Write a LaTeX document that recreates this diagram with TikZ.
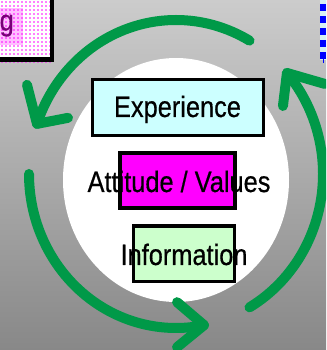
\documentclass[tikz,border=0pt]{standalone}
\usepackage{fontspec}
\setmainfont{Liberation Sans}
\newfontfamily\lblfont[FakeBold=0.6]{Liberation Sans}
\usepackage{graphicx}
\definecolor{bgtop}{RGB}{204,204,204}
\definecolor{bgbot}{RGB}{136,136,136}
\definecolor{cycgreen}{RGB}{0,153,72}
\definecolor{expfill}{RGB}{204,255,255}
\definecolor{infofill}{RGB}{204,255,204}
\definecolor{attfill}{RGB}{255,0,255}
\definecolor{gpurple}{RGB}{120,0,120}
\definecolor{trfill}{RGB}{215,240,245}
\tikzset{
  cyc/.style={draw=cycgreen, line width=10pt, line cap=round, line join=round},
  boxstyle/.style={draw=black, line width=3.5pt, inner sep=0pt},
  lbl/.style={anchor=base, inner sep=0pt, font=\lblfont\fontsize{29.5}{30}\selectfont},
}
\newcommand{\narrow}[1]{\scalebox{0.86}[1]{#1}}
\begin{document}
\begin{tikzpicture}[x=1pt,y=1pt]
\useasboundingbox (0,0) rectangle (326,350);
\clip (0,0) rectangle (326,350);
% background
\shade[top color=bgtop, bottom color=bgbot] (0,0) rectangle (326,350);
% white ellipse
\fill[white] (176,170) ellipse [x radius=113pt, y radius=122pt];
% cycle arrows
\coordinate (C) at (176,176);
\draw[cyc] ([shift={(60:147pt and 154pt)}]C) arc[start angle=60, end angle=161, x radius=147pt, y radius=154pt] coordinate (t1);
\draw[cyc] (t1) ++(-10,39) -- (t1) -- ++(31,6);
\draw[cyc] ([shift={(180:147pt and 154pt)}]C) arc[start angle=180, end angle=281, x radius=147pt, y radius=154pt] coordinate (t2);
\draw[cyc] (t2) ++(-27,23) -- (t2) -- ++(-27,-22);
\draw[cyc] ([shift={(300:147pt and 154pt)}]C) arc[start angle=300, end angle=401, x radius=147pt, y radius=154pt] coordinate (t3);
\draw[cyc] (t3) ++(-4,-33) -- (t3) -- ++(38,-11);
% boxes
\node[boxstyle, line width=3pt, fill=expfill, minimum width=171pt, minimum height=56pt] (expbox) at (178,242.5) {};
\node[boxstyle, fill=attfill, minimum width=115pt, minimum height=55pt] (attbox) at (177.5,169.5) {};
\node[boxstyle, fill=infofill, minimum width=101pt, minimum height=55.5pt] (infobox) at (184,96.25) {};
% labels
\node[lbl] (exp) at (177.5,233) {\narrow{Experience}};
\node[lbl] (att) at (179,158) {\narrow{Attitude / Values}};
\node[lbl] (info) at (184,85) {\narrow{Information}};
% top-left partial box
\fill[white] (-10,290) rectangle (52,360);
\fill[attfill!25] (0,305) rectangle (23,342);
\foreach \i in {0,...,12} {
  \foreach \j in {0,...,15} {
    \fill[attfill] (\i*4+2,348-\j*4) circle (0.8pt);
  }
}
\draw[black, line width=4.5pt] (-10,290.25) -- (51.75,290.25) -- (51.75,360);
\node[lbl, anchor=base east, text=gpurple] (gtext) at (14,319.5) {\narrow{g}};
% top-right partial box edge
\fill[trfill] (319.5,290) rectangle (326,350);
\draw[blue, line width=6pt, dash pattern=on 6.5pt off 5.5pt] (323,345.5) -- (323,290.5);
\draw[blue, line width=1pt] (323,292) -- (323,287);
\end{tikzpicture}
\end{document}
